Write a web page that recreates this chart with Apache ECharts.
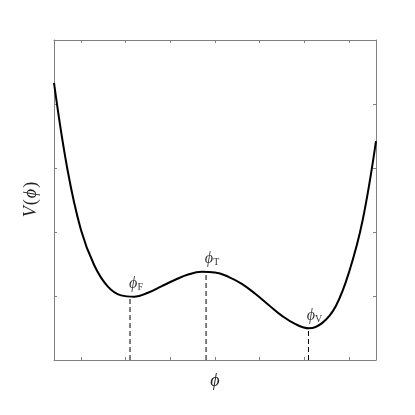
<!DOCTYPE html>
<html>
<head>
<meta charset="utf-8">
<script src="https://cdn.jsdelivr.net/npm/echarts@6/dist/echarts.min.js"></script>
<style>
  html, body { margin: 0; padding: 0; background: #fff; }
  #chart { width: 415px; height: 415px; }
</style>
</head>
<body>
<div id="chart"></div>
<script>
// field value (x) and potential (y)
const phi = [-0.6, -0.3, 0, 0.3, 0.6, 0.9, 1.2, 1.5, 1.8, 2.1, 2.4, 2.7, 3.0,
  3.3, 3.6, 3.9, 4.2, 4.5, 4.8, 5.1, 5.4, 5.7, 6.0, 6.3, 6.6]
const potential = [4.33, 2.98, 2.04, 1.48, 1.15, 1.01, 0.99, 1.05, 1.15, 1.25, 1.335, 1.377, 1.368,
  1.30, 1.19, 1.035, 0.86, 0.69, 0.56, 0.495, 0.58, 0.84, 1.38, 2.18, 3.42]

// stationary points
const extremaNames = ['F', 'T', 'V']
const extremaPhi = [1.1, 2.8, 5.09]
const extremaV = [0.99, 1.38, 0.49]

const xTicks = [0, 1, 2, 3, 4, 5, 6]

const frameColor = '#808080'
const serif = "'Liberation Serif', 'DejaVu Serif', serif"

const chart = echarts.init(document.getElementById('chart'))

const axisCommon = {
  axisLine: { show: true, onZero: false, lineStyle: { color: frameColor, width: 1 } },
  axisLabel: { show: false },
  splitLine: { show: false }
}

const xBase = {
  type: 'value',
  min: -0.6,
  max: 6.6,
  ...axisCommon,
  axisTick: { show: true, inside: true, length: 3, customValues: xTicks, lineStyle: { color: frameColor } }
}
const yBase = {
  type: 'value',
  min: 0,
  max: 5,
  interval: 1,
  ...axisCommon,
  axisTick: { show: true, inside: true, length: 3, lineStyle: { color: frameColor } }
}

const dashed = extremaPhi.map((p, i) => ({
  type: 'line',
  data: [[p, 0], [p, extremaV[i]]],
  symbol: 'none',
  lineStyle: { color: '#000', width: 1, type: [5, 3] },
  silent: true
}))

const option = {
  animation: false,
  grid: { left: 54, right: 39, top: 40, bottom: 55 },
  xAxis: [
    {
      ...xBase,
      position: 'bottom',
      name: 'ϕ',
      nameLocation: 'middle',
      nameGap: 12,
      nameTextStyle: { fontFamily: serif, fontStyle: 'italic', fontSize: 18, color: '#222' }
    },
    { ...xBase, position: 'top' }
  ],
  yAxis: [
    {
      ...yBase,
      position: 'left',
      name: '{i|V}{n|(}{i|ϕ}{n|)}',
      nameLocation: 'middle',
      nameGap: 14,
      nameRotate: 90,
      nameTextStyle: {
        color: '#222',
        rich: {
          i: { fontFamily: serif, fontStyle: 'italic', fontSize: 18, color: '#222', padding: [0, 1, 0, 1] },
          n: { fontFamily: serif, fontSize: 18, color: '#222' }
        }
      }
    },
    { ...yBase, position: 'right' }
  ],
  series: [
    ...dashed,
    {
      type: 'line',
      data: phi.map((p, i) => [p, potential[i]]),
      smooth: 0.4,
      symbol: 'none',
      lineStyle: { color: '#000', width: 2 },
      z: 5
    },
    {
      type: 'scatter',
      data: extremaPhi.map((p, i) => ({ value: [p, extremaV[i]], name: extremaNames[i] })),
      symbolSize: 0,
      label: {
        show: true,
        position: 'top',
        distance: 4,
        offset: [6, 0],
        formatter: (d) => '{p|ϕ}{s|' + d.name + '}',
        rich: {
          p: { fontFamily: serif, fontStyle: 'italic', fontSize: 16, color: '#000' },
          s: { fontFamily: serif, fontSize: 10, color: '#000', padding: [7, 0, 0, 0] }
        }
      },
      z: 6
    }
  ]
}

option && chart.setOption(option)
</script>
</body>
</html>
